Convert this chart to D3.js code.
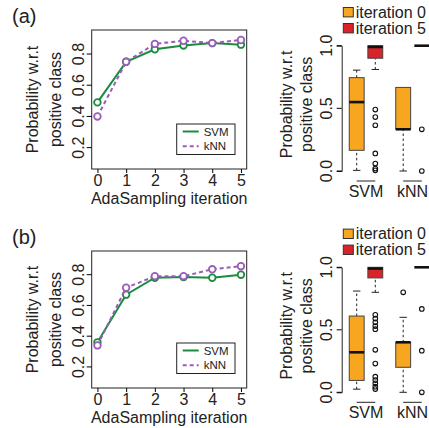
<!DOCTYPE html>
<html>
<head>
<meta charset="utf-8">
<script src="https://cdn.jsdelivr.net/npm/d3@7"></script>
<style>
  body { margin: 0; background: #fff; }
  text { font-family: "Liberation Sans", Arial, Helvetica, sans-serif; fill: #222; }
</style>
</head>
<body>
<div id="chart"></div>
<script>
// values
const iterations = [0, 1, 2, 3, 4, 5];
const svmA = [0.49, 0.75, 0.83, 0.855, 0.87, 0.86];
const knnA = [0.40, 0.75, 0.865, 0.885, 0.87, 0.89];
const svmB = [0.36, 0.67, 0.78, 0.785, 0.78, 0.80];
const knnB = [0.34, 0.715, 0.79, 0.79, 0.835, 0.855];
const lineYTicks = [0.2, 0.4, 0.6, 0.8];
const boxYTicks = [0.0, 0.5, 1.0];
const methods = ['SVM', 'kNN'];
const boxIterations = ['iteration 0', 'iteration 5'];

// box stats: [min whisker, q1, median, q3, max whisker]
const boxStatsA = [
    [0.005, 0.165, 0.55, 0.745, 0.805],
    [0.81, 0.90, 0.99, 1.0, 1.0],
    [0.0, 0.333, 0.333, 0.667, 0.667],
    [1.0, 1.0, 1.0, 1.0, 1.0]
];
const outliersA = [
    [],
    [0.49, 0.43, 0.365, 0.14, 0.06, 0.02, 0.005],
    [],
    [0.333, 0.0]
];
const boxStatsB = [
    [0.025, 0.095, 0.32, 0.61, 0.81],
    [0.80, 0.915, 0.99, 1.0, 1.0],
    [0.0, 0.2, 0.4, 0.4, 0.6],
    [1.0, 1.0, 1.0, 1.0, 1.0]
];
const outliersB = [
    [],
    [0.62, 0.59, 0.56, 0.53, 0.505, 0.34, 0.23, 0.125, 0.098, 0.072, 0.045, 0.026],
    [0.8],
    [0.667, 0.333, 0.0]
];
const boxPositions = [1, 2, 3.5, 4.5];

const green = '#1a8c3e';
const purple = '#9a5cba';
const orange = '#f8a51f';
const red = '#d8232a';
const fontSize = 16;

const svg = d3.select('#chart').append('svg')
    .attr('width', 429)
    .attr('height', 428);

svg.append('rect').attr('width', 429).attr('height', 428).attr('fill', '#fff');

function drawLinePlot(top, bottom, svm, knn, tag) {
    const left = 91.7, right = 246.7;
    const x = d3.scaleLinear().domain([-0.2, 5.2]).range([left, right]);
    const y = d3.scaleLinear().domain([0.063, 0.954]).range([bottom, top]);
    const g = svg.append('g');

    g.append('text')
        .attr('x', 12).attr('y', top - 7)
        .style('font-size', '20px')
        .text(tag);

    // series
    const series = [
        {vals: svm, color: green, dash: null},
        {vals: knn, color: purple, dash: '4,3'}
    ];
    series.forEach(s => {
        const line = d3.line().x((d, i) => x(iterations[i])).y(d => y(d));
        g.append('path')
            .attr('d', line(s.vals))
            .attr('fill', 'none')
            .attr('stroke', s.color)
            .attr('stroke-width', 2)
            .attr('stroke-dasharray', s.dash);
        g.selectAll(null)
            .data(s.vals)
            .enter()
            .append('circle')
            .attr('cx', (d, i) => x(iterations[i]))
            .attr('cy', d => y(d))
            .attr('r', 3.3)
            .attr('fill', '#fff')
            .attr('stroke', s.color)
            .attr('stroke-width', 1.8);
    });

    g.append('rect')
        .attr('x', left).attr('y', top)
        .attr('width', right - left).attr('height', bottom - top)
        .attr('fill', 'none').attr('stroke', '#222').attr('stroke-width', 1);

    const yAxis = g.append('g').attr('transform', `translate(${left},0)`)
        .call(d3.axisLeft(y).tickValues(lineYTicks).tickSize(5).tickFormat(d3.format('.1f')));
    yAxis.select('.domain').remove();
    yAxis.selectAll('text')
        .attr('transform', d => `translate(${-13},${y(d)}) rotate(-90)`)
        .attr('x', 0).attr('y', 0).attr('dy', '0.35em')
        .style('text-anchor', 'middle')
        .style('font-size', fontSize + 'px');
    yAxis.selectAll('.tick').attr('transform', null);
    yAxis.selectAll('.tick line').attr('y1', d => y(d)).attr('y2', d => y(d));

    const xAxis = g.append('g').attr('transform', `translate(0,${bottom})`)
        .call(d3.axisBottom(x).tickValues(iterations).tickSize(4).tickPadding(2).tickFormat(d3.format('d')));
    xAxis.select('.domain').remove();
    xAxis.selectAll('text').style('font-size', fontSize + 'px');

    g.append('text')
        .attr('x', (left + right) / 2).attr('y', bottom + 35)
        .style('text-anchor', 'middle').style('font-size', fontSize + 'px')
        .text('AdaSampling iteration');

    const ylab = g.append('text')
        .attr('transform', `translate(0,${(top + bottom) / 2}) rotate(-90)`)
        .style('text-anchor', 'middle').style('font-size', fontSize + 'px');
    ylab.append('tspan').attr('x', 0).attr('y', 38).text('Probability w.r.t');
    ylab.append('tspan').attr('x', 0).attr('y', 61).text('positive class');

    // legend
    const lx = 176.7, ly = bottom - 45;
    g.append('rect').attr('x', lx).attr('y', ly).attr('width', 58.3).attr('height', 30.5)
        .attr('fill', '#fff').attr('stroke', '#222');
    [['SVM', green, null], ['kNN', purple, '4,3']].forEach((e, i) => {
        const yy = ly + 7.5 + i * 14.7;
        g.append('line').attr('x1', lx + 6).attr('x2', lx + 22).attr('y1', yy).attr('y2', yy)
            .attr('stroke', e[1]).attr('stroke-width', 2).attr('stroke-dasharray', e[2]);
        g.append('text').attr('x', lx + 27).attr('y', yy).attr('dy', '0.35em')
            .style('font-size', '11.5px').text(e[0]);
    });
}

function drawBoxPlot(y0, y1, stats, outliers) {
    const axisX = 341.7;
    const x = d3.scaleLinear().domain([1, 4.5]).range([356.7, 421.8]);
    const y = d3.scaleLinear().domain([0, 1]).range([y0, y1]);
    const unit = x(2) - x(1);
    const bw = unit * 0.8;
    const g = svg.append('g');
    const fills = [orange, red, orange, red];

    stats.forEach((s, i) => {
        const cx = x(boxPositions[i]);
        // whiskers
        [[s[0], s[1]], [s[3], s[4]]].forEach(w => {
            if (w[0] === w[1]) return;
            g.append('line').attr('x1', cx).attr('x2', cx).attr('y1', y(w[0])).attr('y2', y(w[1]))
                .attr('stroke', '#222').attr('stroke-dasharray', '2.5,2.5');
        });
        [s[0], s[4]].forEach((v, k) => {
            if (v === s[k === 0 ? 1 : 3]) return;
            g.append('line').attr('x1', cx - bw / 4).attr('x2', cx + bw / 4).attr('y1', y(v)).attr('y2', y(v))
                .attr('stroke', '#222');
        });
        if (s[3] > s[1]) {
            g.append('rect').attr('x', cx - bw / 2).attr('y', y(s[3]))
                .attr('width', bw).attr('height', y(s[1]) - y(s[3]))
                .attr('fill', fills[i]).attr('stroke', '#444').attr('stroke-width', 1);
        }
        g.append('line').attr('x1', cx - bw / 2).attr('x2', cx + bw / 2).attr('y1', y(s[2])).attr('y2', y(s[2]))
            .attr('stroke', '#111').attr('stroke-width', 2.6);
        g.selectAll(null).data(outliers[i]).enter().append('circle')
            .attr('cx', cx).attr('cy', d => y(d)).attr('r', 2.3)
            .attr('fill', 'none').attr('stroke', '#111').attr('stroke-width', 1.1);
    });

    const yAxis = g.append('g').attr('transform', `translate(${axisX},0)`)
        .call(d3.axisLeft(y).tickValues(boxYTicks).tickSize(5).tickFormat(d3.format('.1f')));
    yAxis.select('.domain').attr('stroke', '#222');
    yAxis.selectAll('.tick').attr('transform', null);
    yAxis.selectAll('.tick line').attr('y1', d => y(d)).attr('y2', d => y(d));
    yAxis.selectAll('text')
        .attr('transform', d => `translate(${-15},${y(d)}) rotate(-90)`)
        .attr('x', 0).attr('y', 0).attr('dy', '0.35em')
        .style('text-anchor', 'middle')
        .style('font-size', fontSize + 'px');

    methods.forEach((m, k) => {
        const a = x(boxPositions[k * 2]), b = x(boxPositions[k * 2 + 1]);
        g.append('line').attr('x1', a).attr('x2', b).attr('y1', y0 + 10).attr('y2', y0 + 10)
            .attr('stroke', '#222');
        g.append('text').attr('x', (a + b) / 2).attr('y', y0 + 26)
            .style('text-anchor', 'middle').style('font-size', fontSize + 'px').text(m);
    });

    const ylab = g.append('text')
        .attr('transform', `translate(0,${(y0 + y1) / 2 - 4}) rotate(-90)`)
        .style('text-anchor', 'middle').style('font-size', fontSize + 'px');
    ylab.append('tspan').attr('x', 0).attr('y', 292).text('Probability w.r.t');
    ylab.append('tspan').attr('x', 0).attr('y', 312).text('positive class');

    boxIterations.forEach((lab, i) => {
        const yy = y1 - 33.5 + i * 16;
        g.append('rect').attr('x', 343.3).attr('y', yy - 4.7).attr('width', 10).attr('height', 9.4)
            .attr('fill', i === 0 ? orange : red).attr('stroke', '#333');
        g.append('text').attr('x', 355.7).attr('y', yy).attr('dy', '0.35em')
            .style('font-size', fontSize + 'px').text(lab);
    });
}

drawLinePlot(30, 169, svmA, knnA, '(a)');
drawLinePlot(251, 388, svmB, knnB, '(b)');
drawBoxPlot(171, 45.7, boxStatsA, outliersA);
drawBoxPlot(392.3, 267.3, boxStatsB, outliersB);
</script>
</body>
</html>
